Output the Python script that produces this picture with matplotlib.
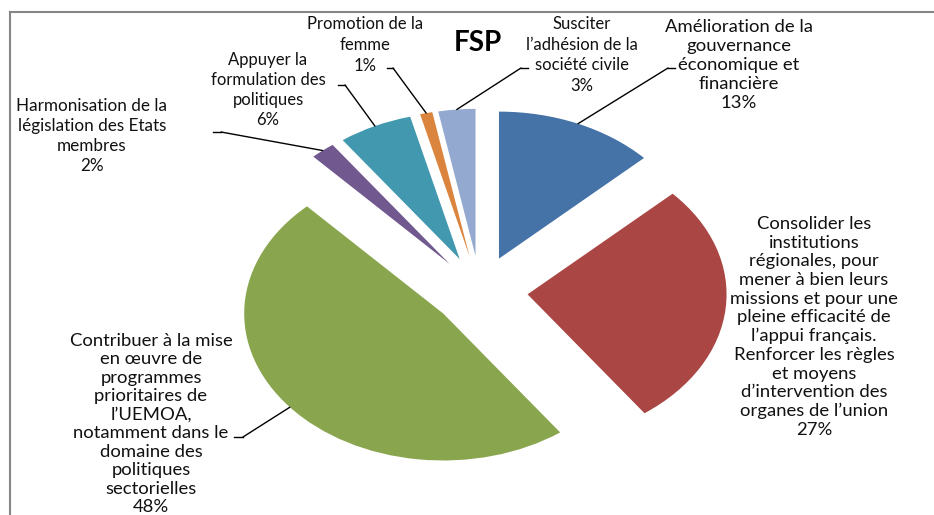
import matplotlib
matplotlib.use("Agg")
import matplotlib.pyplot as plt
from matplotlib.lines import Line2D
import numpy as np

plt.rcParams['font.family'] = ['Lato', 'DejaVu Sans']

# ---- data ----
categories = [
    "Amélioration de la\ngouvernance\néconomique et\nfinancière",
    "Consolider les\ninstitutions\nrégionales, pour\nmener à bien leurs\nmissions et pour une\npleine efficacité de\nl\u2019appui français.\nRenforcer les règles\net moyens\nd\u2019intervention des\norganes de l\u2019union",
    "Contribuer à la mise\nen \u0153uvre de\nprogrammes\nprioritaires de\nl\u2019UEMOA,\nnotamment dans le\ndomaine des\npolitiques\nsectorielles",
    "Harmonisation de la\nlégislation des Etats\nmembres",
    "Appuyer la\nformulation des\npolitiques",
    "Promotion de la\nfemme",
    "Susciter\nl\u2019adhésion de la\nsociété civile",
]
values = [13, 27, 48, 2, 6, 1, 3]
colors = ["#4572A7", "#AA4643", "#89A54E", "#71588F", "#4198AF", "#DB843D", "#93A9CF"]
title = "FSP"

# ---- layout (pixels) ----
W, H = 934, 515
CX, CY, RX, RY = 480, 291, 199, 147

# label block centres (px), font sizes, line spacings
label_pos = [(739, 65), (814, 327), (151, 424), (92, 136), (268, 90), (365, 45), (582, 55)]
label_size = [13.3, 13.3, 13.3, 12.3, 12.0, 12.0, 12.0]
label_ls = [1.22, 1.20, 1.19, 1.30, 1.33, 1.35, 1.35]
# leader elbow / tick end (px); None = no leader
elbows = [((668, 68), (675, 68)),
          None,
          ((243, 437), (234, 437)),
          ((221, 132), (213, 132)),
          ((345, 85), (338, 85)),
          ((393, 68), (387, 68)),
          ((521, 68), (528, 68))]

fig = plt.figure(figsize=(W / 100, H / 100), dpi=100)
ax = fig.add_axes([0, 0, 1, 1])

wedges, _ = ax.pie(values, colors=colors, startangle=90, counterclock=False,
                   explode=[0.24] * len(values), radius=1,
                   wedgeprops=dict(linewidth=0))
ax.set_aspect('auto')
ax.set_xlim(-CX / RX, (W - CX) / RX)
ax.set_ylim((CY - H) / RY, CY / RY)
ax.axis('off')


def fig_xy(p):
    return (p[0] / W, 1 - p[1] / H)


for i, (cat, v, w) in enumerate(zip(categories, values, wedges)):
    tx, ty = label_pos[i]
    fig.text(tx / W, 1 - ty / H, f"{cat}\n{v}%", ha='center', va='center',
             multialignment='center', fontsize=label_size[i],
             linespacing=label_ls[i], color='#111111')
    if elbows[i] is not None:
        mid = np.deg2rad((w.theta1 + w.theta2) / 2)
        px, py = w.center[0] + w.r * np.cos(mid), w.center[1] + w.r * np.sin(mid)
        (ex, ey), (kx, ky) = elbows[i]
        ax.annotate('', xy=(px, py), xycoords='data',
                    xytext=fig_xy((ex, ey)), textcoords='figure fraction',
                    arrowprops=dict(arrowstyle='-', color='black', lw=1.0,
                                    shrinkA=0, shrinkB=0))
        fig.add_artist(Line2D([ex / W, kx / W], [1 - ey / H, 1 - ky / H],
                              transform=fig.transFigure, color='black', lw=1.0))

fig.text(478 / W, 1 - 43 / H, title, ha='center', va='center',
         fontsize=20, fontweight='bold', color='black')

# chart frame (top and left edges visible)
fig.add_artist(Line2D([10 / W, 10 / W], [0, 1 - 12 / H], transform=fig.transFigure,
                      color='#868686', lw=1.5))
fig.add_artist(Line2D([10 / W, 1], [1 - 12 / H, 1 - 12 / H], transform=fig.transFigure,
                      color='#868686', lw=1.5))

fig.savefig("out.png", dpi=100, facecolor='white')
